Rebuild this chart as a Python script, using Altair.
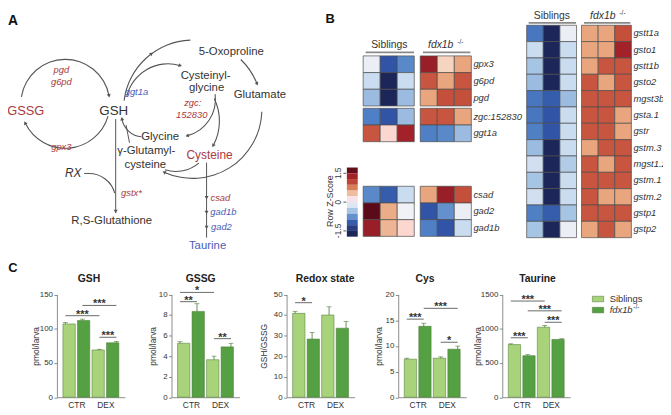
import math
import altair as alt
import pandas as pd

FONT = "Liberation Sans"
RED = "#a83a40"
BLUE = "#4b5cb3"
INK = "#333333"
LINE = "#555555"
LIGHT = "#a9d37b"
DARK = "#55a043"
EDGE = "#46742f"
AXIS = "#707070"

W, H = 663, 404
M = 8  # page margin: reference pixel = chart pixel + M

# ---------------- values ----------------
conditions = ["CTR", "DEX"]
genotypes = ["Siblings", "fdx1b-/-"]

gsh_mean = [107, 112, 69, 79.5]
gsh_err = [2, 2, 1, 2]
gssg_mean = [5.25, 8.35, 3.65, 4.9]
gssg_err = [0.15, 0.75, 0.35, 0.35]
redox_mean = [40.8, 28.3, 40.0, 33.6]
redox_err = [1.0, 3.2, 4.0, 3.2]
cys_mean = [7.4, 13.8, 7.6, 9.35]
cys_err = [0.2, 0.6, 0.25, 0.6]
taurine_mean = [768, 606, 1022, 844]
taurine_err = [12, 15, 25, 10]

gsh_ticks = [0, 50, 100, 150]
gssg_ticks = [0, 2, 4, 6, 8, 10]
redox_ticks = [0, 10, 20, 30, 40, 50]
cys_ticks = [0, 5, 10, 15, 20]
taurine_ticks = [0, 500, 1000, 1500]

# brackets: (bar a, bar b, height, label); bars 0..3 = CTR Sib, CTR fdx, DEX Sib, DEX fdx
gsh_sig = [(0, 2, 119, "***"), (1, 3, 134, "***"), (2, 3, 87.5, "***")]
gssg_sig = [(0, 2, 10.2, "*"), (0, 1, 9.3, "**"), (2, 3, 5.7, "**")]
redox_sig = [(0, 1, 46, "*")]
cys_sig = [(0, 1, 15.2, "***"), (1, 3, 17.3, "***"), (2, 3, 10.7, "*")]
taurine_sig = [(0, 2, 1404, "***"), (1, 3, 1261, "***"), (2, 3, 1094, "***"), (0, 1, 868, "***")]

heat_left_genes = ["gpx3", "g6pd", "pgd", "zgc:152830", "ggt1a", "csad", "gad2", "gad1b"]
heat_left_block = [0, 0, 0, 1, 1, 2, 2, 2]
heat_left_z = [
    [-0.05, -1.1, -0.8, 1.4, 0.3, 0.6],
    [-0.3, -1.6, -0.3, 0.9, 0.6, 0.9],
    [-0.5, -1.6, -0.5, 0.6, 0.95, 0.95],
    [-0.85, -1.1, -0.5, 0.9, 0.9, 0.6],
    [0.9, 0.25, 1.35, -0.85, -0.8, -0.5],
    [-0.8, -1.05, -0.3, 0.6, 1.4, 0.95],
    [1.7, 0.55, 0.0, -1.1, -0.75, -0.05],
    [1.4, 0.5, 0.25, -0.85, -1.1, -0.3],
]
heat_right_genes = ["gstt1a", "gsto1", "gstt1b", "gsto2", "mgst3b", "gsta.1", "gstr",
                    "gstm.3", "mgst1.2", "gstm.1", "gstm.2", "gstp1", "gstp2"]
heat_right_z = [
    [-0.9, -1.6, -0.05, 0.6, 0.6, 0.95],
    [-0.3, -1.6, -0.3, 0.6, 0.6, 1.35],
    [-0.45, -1.6, -0.3, 0.6, 0.9, 0.9],
    [-0.5, -1.6, -0.3, 0.9, 0.6, 0.9],
    [-0.9, -1.05, -0.5, 0.9, 0.9, 0.9],
    [-0.9, -1.1, -0.3, 0.9, 0.9, 0.6],
    [-0.85, -1.1, -0.3, 0.9, 0.9, 0.6],
    [-0.5, -1.6, -0.3, 0.6, 0.9, 0.9],
    [-0.25, -1.6, -0.4, 0.9, 0.6, 0.9],
    [-0.45, -1.6, -0.3, 0.9, 0.9, 0.9],
    [-0.25, -1.6, -0.3, 0.9, 0.6, 0.6],
    [-0.85, -1.05, -0.45, 0.9, 0.9, 0.9],
    [-0.45, -1.6, -0.05, 0.6, 0.9, 0.6],
]
colorbar_levels = [1.65, 1.35, 1.05, 0.75, 0.45, 0.15, -0.15, -0.45, -0.75, -1.05, -1.35, -1.65]
colorbar_ticks = ["1.5", "0", "-1.5"]

Z_DOMAIN = [-1.6, -1.1, -0.85, -0.5, -0.3, 0, 0.3, 0.6, 0.9, 1.35, 1.7]
Z_RANGE = ["#1c2658", "#3154a6", "#4f80c5", "#9bbce0", "#c9dcf0", "#f1f2f5",
           "#f5d5bf", "#e9a57e", "#c8553f", "#a32229", "#5a0a18"]


def fx():
    return alt.Scale(domain=[M, M + W], range=[0, W])


def fy():
    return alt.Scale(domain=[M, M + H], range=[0, H])


def zscale():
    return alt.Scale(domain=Z_DOMAIN, range=Z_RANGE, clamp=True)


def texts(rows, style="normal", weight="normal", align="center", angle=0, baseline="middle"):
    df = pd.DataFrame(rows, columns=["t", "x", "y", "c", "s"])
    return alt.Chart(df).mark_text(font=FONT, fontStyle=style, fontWeight=weight, align=align,
                                   baseline=baseline, angle=angle).encode(
        x=alt.X("x:Q", scale=fx(), axis=None),
        y=alt.Y("y:Q", scale=fy(), axis=None),
        text=alt.Text("t:N"),
        color=alt.Color("c:N", scale=None, legend=None),
        size=alt.Size("s:Q", scale=None, legend=None),
    )


layers = []

# ---------------- panel A: pathway ----------------
arc_specs = [  # cx, cy, r, start deg, end deg, arrow head
    (66, 102.5, 45, 279, 439, "end"),
    (66, 102.5, 45, 106, 244, "end"),
    (195, 108, 70, 277, 358, 323),
    (195, 108, 70, 44, 68, "end"),
    (195, 108, 70, 92, 204, "end"),
    (170, 105, 43, 283, 376, "end"),
    (180, 98, 38, 82, 165, "end"),
    (170, 120, 52, 64, 118, "end"),
    (145, 114, 22, 185, 259, "end"),
    (178, 135, 36, 140, 198, None),
    (90, 200, 27, 0, 75, None),
]
arc_rows, head_rows = [], []
for cx, cy, r, t1, t2, head in arc_specs:
    arc_rows.append({"cx": cx, "cy": cy, "t1": math.radians(t1), "t2": math.radians(t2),
                     "ro": r + 0.55, "ri": r - 0.55})
    if head is not None:
        th = t2 if head == "end" else head
        rad = math.radians(th)
        head_rows.append({"x": cx + r * math.sin(rad), "y": cy - r * math.cos(rad), "a": (th + 90) % 360})
for yy in [211, 197, 212, 227]:
    head_rows.append({"x": 117 if yy == 211 else 209, "y": yy, "a": 180})

layers.append(alt.Chart(pd.DataFrame(arc_rows)).mark_arc(color=LINE).encode(
    x=alt.X("cx:Q", scale=fx(), axis=None),
    y=alt.Y("cy:Q", scale=fy(), axis=None),
    theta=alt.Theta("t1:Q", scale=None),
    theta2=alt.Theta2("t2:Q"),
    radius=alt.Radius("ro:Q", scale=None),
    radius2=alt.Radius2("ri:Q"),
))
line_rows = [
    {"x1": 117, "y1": 118, "x2": 117, "y2": 213},
    {"x1": 209, "y1": 162, "x2": 209, "y2": 238},
    {"x1": 131, "y1": 142, "x2": 127.5, "y2": 124},
    {"x1": 85, "y1": 173, "x2": 90, "y2": 173},
]
layers.append(alt.Chart(pd.DataFrame(line_rows)).mark_rule(color=LINE, strokeWidth=1).encode(
    x=alt.X("x1:Q", scale=fx(), axis=None), y=alt.Y("y1:Q", scale=fy(), axis=None),
    x2="x2:Q", y2="y2:Q"))
layers.append(alt.Chart(pd.DataFrame(head_rows)).mark_point(shape="triangle", filled=True, color=LINE,
                                                            opacity=1, size=16).encode(
    x=alt.X("x:Q", scale=fx(), axis=None), y=alt.Y("y:Q", scale=fy(), axis=None),
    angle=alt.Angle("a:Q", scale=None)))

layers.append(texts([
    ("GSSG", 26, 110, RED, 13), ("GSH", 115, 110, INK, 13.5),
    ("5-Oxoproline", 234, 50, INK, 11.5), ("Cysteinyl-", 208, 74, INK, 11.5),
    ("glycine", 209, 87, INK, 11.5), ("Glutamate", 263, 94, INK, 11.5),
    ("Glycine", 162, 136, INK, 11.5), ("γ-Glutamyl-", 148, 150, INK, 11.5),
    ("cysteine", 147, 164, INK, 11.5), ("Cysteine", 212, 154, RED, 12),
    ("R,S-Glutathione", 113, 221, INK, 11.5), ("Taurine", 210, 246, BLUE, 11.5),
]))
layers.append(texts([
    ("pgd", 62, 68, RED, 9.5), ("g6pd", 62, 80, RED, 9.5), ("gpx3", 62, 146, RED, 9.5),
    ("ggt1a", 138, 91, BLUE, 9.5), ("zgc:", 195, 102, RED, 9.5), ("152830", 194, 114, RED, 9.5),
    ("RX", 74, 173, INK, 12), ("gstx*", 133, 193, RED, 9.5), ("csad", 223, 198, RED, 9.5),
    ("gad1b", 226, 212, BLUE, 9.5), ("gad2", 224, 227, BLUE, 9.5),
], style="italic"))
layers.append(texts([
    ("A", 13, 19, "#111111", 14), ("B", 334, 17, "#111111", 13), ("C", 13, 269, "#111111", 13),
    ("GSH", 90, 280, "#222222", 10.5), ("GSSG", 203, 280, "#222222", 10.5),
    ("Redox state", 329, 280, "#222222", 10.5), ("Cys", 430, 280, "#222222", 10.5),
    ("Taurine", 544, 280, "#222222", 10.5),
], weight="bold"))


# ---------------- panel B: heatmaps ----------------
def heat_layers(genes, blocks, z, offsets, gap, xr, yr, ymax):
    rows, labels, count = [], [], {}
    for gene, b, vals in zip(genes, blocks, z):
        k = count.get(b, 0)
        count[b] = k + 1
        y0 = offsets[b] + k
        labels.append({"gene": gene, "yc": y0 + 0.5, "lx": 6 + gap + 0.12})
        for ci, v in enumerate(vals):
            x0 = ci + (gap if ci >= 3 else 0)
            rows.append({"x0": x0, "x1": x0 + 1, "y0": y0, "y1": y0 + 1, "z": v})
    xs = alt.Scale(domain=[0, 6 + gap], range=[xr[0] - M, xr[1] - M])
    ys = alt.Scale(domain=[0, ymax], range=[yr[0] - M, yr[1] - M])
    rect = alt.Chart(pd.DataFrame(rows)).mark_rect(stroke="#4d4d4d", strokeWidth=0.7).encode(
        x=alt.X("x0:Q", scale=xs, axis=None), x2="x1:Q",
        y=alt.Y("y0:Q", scale=ys, axis=None), y2="y1:Q",
        color=alt.Color("z:Q", scale=zscale(), legend=None))
    lab = alt.Chart(pd.DataFrame(labels)).mark_text(font=FONT, fontStyle="italic", fontSize=9.5,
                                                    align="left", baseline="middle", color=INK).encode(
        x=alt.X("lx:Q", scale=xs, axis=None), y=alt.Y("yc:Q", scale=ys, axis=None), text="gene:N")
    return [rect, lab]


layers += heat_layers(heat_left_genes, heat_left_block, heat_left_z, [0, 3.14, 7.81], 0.35,
                      (367.5, 477), (54, 54 + 10.9 * 16.9), 10.9)
layers += heat_layers(heat_right_genes, [0] * len(heat_right_genes), heat_right_z, [0], 0.3,
                      (533, 639), (23, 238), 13)

layers.append(alt.Chart(pd.DataFrame([
    {"x1": 370, "x2": 419, "y": 50.5}, {"x1": 428, "x2": 476, "y": 50.5},
    {"x1": 535, "x2": 583, "y": 20.5}, {"x1": 591, "x2": 638, "y": 20.5},
])).mark_rule(color="#8a8a8a", strokeWidth=1.8).encode(
    x=alt.X("x1:Q", scale=fx(), axis=None), x2="x2:Q", y=alt.Y("y:Q", scale=fy(), axis=None)))
layers.append(texts([("Siblings", 394, 43, INK, 10.5), ("Siblings", 558.5, 14, INK, 10.5)]))
layers.append(texts([("fdx1b", 446, 43, INK, 10.5), ("fdx1b", 610, 14, INK, 10.5)], style="italic"))
layers.append(texts([("-/-", 466, 40, INK, 6.5), ("-/-", 630, 11, INK, 6.5)]))

# colour key
cb_scale = alt.Scale(domain=[-1.8, 1.8], range=[237 - M, 167 - M])
cb = pd.DataFrame({"z": colorbar_levels})
cb["lo"] = cb["z"] - 0.15
cb["hi"] = cb["z"] + 0.15
layers.append(alt.Chart(cb).mark_rect().encode(
    x=alt.value(351 - M), x2=alt.value(362 - M),
    y=alt.Y("lo:Q", scale=cb_scale, axis=None), y2="hi:Q",
    color=alt.Color("z:Q", scale=zscale(), legend=None)))
cbt = pd.DataFrame({"t": colorbar_ticks, "v": [float(t) for t in colorbar_ticks]})
layers.append(alt.Chart(cbt).mark_rule(color=INK, strokeWidth=0.8).encode(
    x=alt.value(347.5 - M), x2=alt.value(350.5 - M), y=alt.Y("v:Q", scale=cb_scale, axis=None)))
layers.append(alt.Chart(cbt).mark_text(font=FONT, fontSize=8.5, angle=270, color=INK,
                                       baseline="middle").encode(
    x=alt.value(342.5 - M), y=alt.Y("v:Q", scale=cb_scale, axis=None), text="t:N"))
layers.append(texts([("Row Z-Score", 334, 201, INK, 9)], angle=270))

# ---------------- panel C: bar charts ----------------
Y0, YTOP = 399.5, 295.5
labels_expr = "[" + ",".join("'%s'" % c for c in conditions) + "][floor(datum.value / 2)]"


def bar_panel(mean, err, ticks, axis_x, title_x, ytitle, sig):
    n = len(genotypes)
    df = pd.DataFrame({
        "slot": list(range(len(mean))),
        "cond": [c for c in conditions for _ in genotypes],
        "geno": genotypes * len(conditions),
        "v": mean,
        "hi": [m + e for m, e in zip(mean, err)],
    })
    xs = alt.Scale(domain=[-0.5, len(mean) - 0.5], range=[axis_x - M, axis_x - M + 68.8])
    ys = alt.Scale(domain=[ticks[0], ticks[-1]], range=[Y0 - M, YTOP - M])
    yaxis = alt.Axis(orient="left", offset=-(axis_x - M), values=ticks, format="d", grid=False, tickSize=3,
                     tickColor=AXIS, tickWidth=0.8, domainColor=AXIS, domainWidth=0.8,
                     labelFont=FONT, labelFontSize=8, labelColor=INK, labelPadding=1.5,
                     title=ytitle, titleFont=FONT, titleFontSize=8.5, titleFontWeight="normal",
                     titleColor=INK, titleX=-(axis_x - title_x), titleY=(Y0 + YTOP) / 2 - M,
                     titleBaseline="middle", titleAngle=270)
    xaxis = alt.Axis(orient="bottom", offset=(Y0 - M) - H,
                     values=[ci * n + (n - 1) / 2 for ci in range(len(conditions))],
                     labelExpr=labels_expr, ticks=False, grid=False, domainColor=AXIS, domainWidth=0.8,
                     labelFont=FONT, labelFontSize=8.5, labelColor=INK, labelPadding=3, title=None)
    bars = alt.Chart(df).mark_bar(size=12.5, orient="vertical", stroke=EDGE, strokeWidth=0.5).encode(
        x=alt.X("slot:Q", scale=xs, axis=xaxis),
        y=alt.Y("v:Q", scale=ys, axis=yaxis),
        y2=alt.datum(0),
        color=alt.Color("geno:N", scale=alt.Scale(domain=genotypes, range=[LIGHT, DARK]), legend=None))
    err_r = alt.Chart(df).mark_rule(color=EDGE, strokeWidth=0.8).encode(
        x=alt.X("slot:Q", scale=xs, axis=None), y=alt.Y("v:Q", scale=ys, axis=None), y2="hi:Q")
    cap = alt.Chart(df).mark_tick(orient="horizontal", size=5, thickness=0.8, color=EDGE).encode(
        x=alt.X("slot:Q", scale=xs, axis=None), y=alt.Y("hi:Q", scale=ys, axis=None))
    sdf = pd.DataFrame(sig, columns=["a", "b", "lv", "lab"])
    sdf["mid"] = (sdf["a"] + sdf["b"]) / 2
    srule = alt.Chart(sdf).mark_rule(color="#444444", strokeWidth=0.8).encode(
        x=alt.X("a:Q", scale=xs, axis=None), x2="b:Q", y=alt.Y("lv:Q", scale=ys, axis=None))
    stext = alt.Chart(sdf).mark_text(font=FONT, fontSize=11, fontWeight="bold", color="#333333",
                                     baseline="alphabetic", dy=2).encode(
        x=alt.X("mid:Q", scale=xs, axis=None), y=alt.Y("lv:Q", scale=ys, axis=None), text="lab:N")
    return [bars, err_r, cap, srule, stext]


layers += bar_panel(gsh_mean, gsh_err, gsh_ticks, 57.5, 36, "pmol/larva", gsh_sig)
layers += bar_panel(gssg_mean, gssg_err, gssg_ticks, 173.5, 154, "pmol/larva", gssg_sig)
layers += bar_panel(redox_mean, redox_err, redox_ticks, 290, 266.7, "GSH/GSSG", redox_sig)
layers += bar_panel(cys_mean, cys_err, cys_ticks, 403, 382.7, "pmol/larva", cys_sig)
layers += bar_panel(taurine_mean, taurine_err, taurine_ticks, 508.3, 483.3, "pmol/larva", taurine_sig)

# legend
leg = pd.DataFrame({"geno": genotypes})
leg["y0"] = [297.3 + 11.2 * i for i in range(len(genotypes))]
leg["y1"] = leg["y0"] + 5.6
layers.append(alt.Chart(leg).mark_rect(stroke=EDGE, strokeWidth=0.5).encode(
    x=alt.value(599.5 - M), x2=alt.value(611 - M),
    y=alt.Y("y0:Q", scale=fy(), axis=None), y2="y1:Q",
    color=alt.Color("geno:N", scale=alt.Scale(domain=genotypes, range=[LIGHT, DARK]), legend=None)))
layers.append(texts([("Siblings", 617, 300.2, INK, 9.5)], align="left"))
layers.append(texts([("fdx1b", 617, 311.4, INK, 9.5)], style="italic", align="left"))
layers.append(texts([("-/-", 641, 308.5, INK, 6.5)], align="left"))

chart = alt.layer(*layers).properties(
    width=W, height=H, padding=0, autosize=alt.AutoSizeParams(type="none")
).resolve_scale(
    x="independent", y="independent", color="independent", size="independent",
    angle="independent", theta="independent", radius="independent"
).configure_view(strokeWidth=0)

chart.save("out.html", embed_options={"renderer": "svg", "actions": False})
